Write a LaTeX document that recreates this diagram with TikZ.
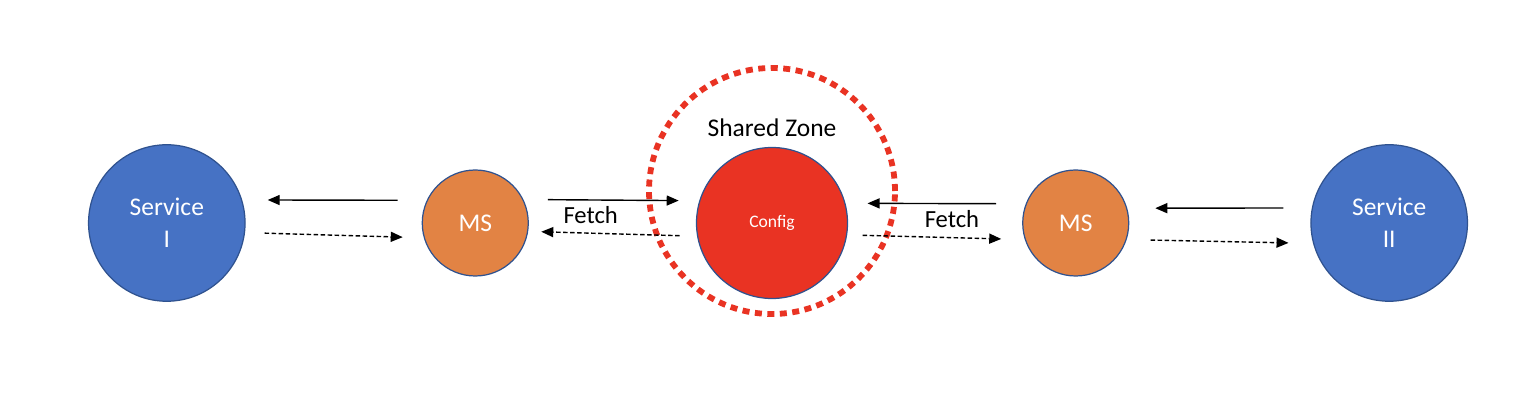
\documentclass[tikz,border=0pt]{standalone}
\usepackage{fontspec}
\setmainfont{Carlito}
\usepackage{xcolor}
\usepackage{tikz}
\usetikzlibrary{arrows.meta,positioning}
\definecolor{svcblue}{RGB}{70,114,196}
\definecolor{msorange}{RGB}{226,131,68}
\definecolor{cfgred}{RGB}{233,51,35}
\definecolor{rimblue}{RGB}{47,82,143}
\tikzset{
  service/.style={circle,draw=rimblue,line width=0.7pt,fill=svcblue,
    minimum size=3.13cm,inner sep=0pt,align=center,text=white,
    font=\fontsize{14.5}{18}\selectfont},
  mesh/.style={circle,draw=rimblue,line width=0.7pt,fill=msorange,
    minimum size=2.12cm,inner sep=0pt,text=white,
    font=\fontsize{14.5}{18}\selectfont},
  config/.style={circle,draw=rimblue,line width=0.7pt,fill=cfgred,
    minimum size=3.02cm,inner sep=0pt,text=white,
    font=\fontsize{10}{12}\selectfont},
  zone/.style={circle,draw=cfgred,line width=3.3pt,
    dash pattern=on 0.14cm off 0.11cm,minimum size=4.92cm,inner sep=0pt},
  call/.style={line width=0.8pt,-{Triangle[length=2.4mm,width=2mm]}},
  reply/.style={call,dash pattern=on 0.9mm off 0.5mm},
  fetch/.style={font=\fontsize{14}{16}\selectfont,inner sep=5pt},
  label/.style={font=\fontsize{14.5}{18}\selectfont}
}
\begin{document}
\begin{tikzpicture}
  \useasboundingbox (0,0) rectangle (30.28,8);
  \node[zone] (z) at (15.44,4.18) {};
  \node[config] (cfg) at (15.44,3.54) {Config};
  \node[label,above=0.07cm of cfg] (zl) {Shared Zone};
  \node[mesh,left=3.34cm of cfg] (msA) {MS};
  \node[service,left=3.52cm of msA] (svcA) {Service\\I};
  \node[mesh,right=3.48cm of cfg] (msB) {MS};
  \node[service,right=3.62cm of msB] (svcB) {Service\\II};
  % left side
  \draw[call,shorten <=0.58cm,shorten >=0.51cm] (msA.155.5) -- (svcA.17);
  \draw[reply,shorten <=0.39cm,shorten >=0.42cm] (svcA.-7.4) -- (msA.-164.7);
  \draw[call,shorten <=0.49cm,shorten >=0.41cm] (msA.26.9) -- (cfg.163.8);
  \draw[reply,shorten <=0.35cm,shorten >=0.26cm] (cfg.-170.1) -- (msA.-9.8)
    node[fetch,pos=0.63,above] (fA) {Fetch};
  % right side
  \draw[call,shorten <=0.59cm,shorten >=0.44cm] (msB.159) -- (cfg.15.4);
  \draw[reply,shorten <=0.31cm,shorten >=0.47cm] (cfg.-9.1) -- (msB.-162.4)
    node[fetch,pos=0.59,above] (fB) {Fetch};
  \draw[call,shorten <=0.57cm,shorten >=0.56cm] (svcB.169.7) -- (msB.16.4);
  \draw[reply,shorten <=0.48cm,shorten >=0.49cm] (msB.-18.7) -- (svcB.-165.2);
\end{tikzpicture}
\end{document}
